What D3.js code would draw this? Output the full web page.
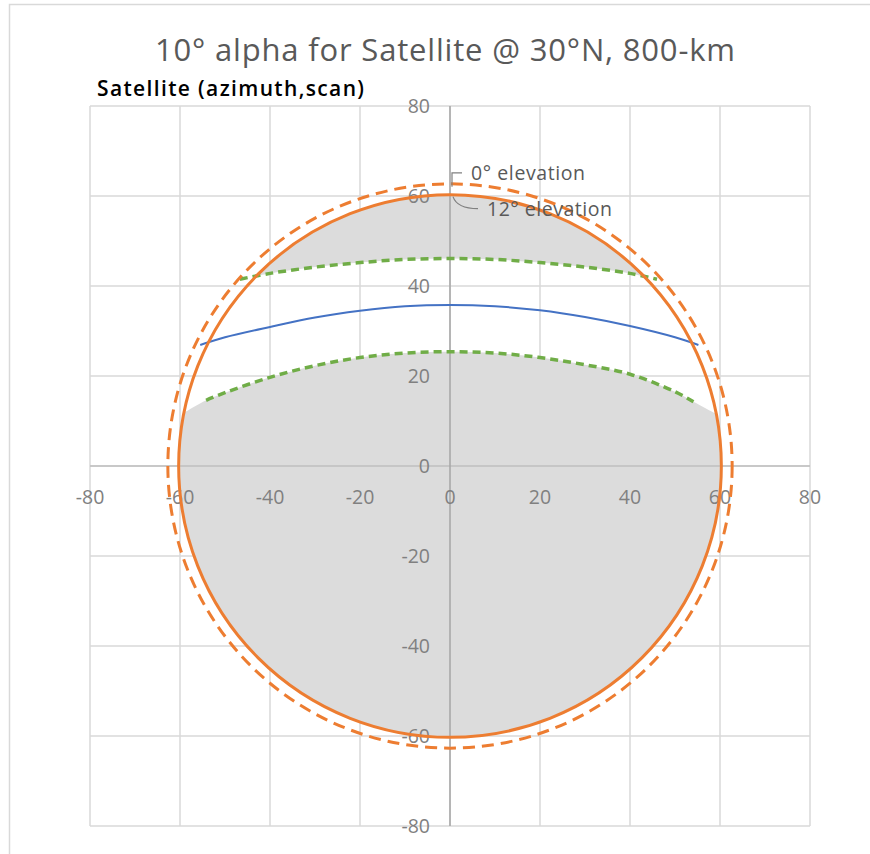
<!DOCTYPE html>
<html>
<head>
<meta charset="utf-8">
<script src="https://cdn.jsdelivr.net/npm/d3@7"></script>
<style>
  html, body { margin: 0; padding: 0; background: #fff; }
  svg { display: block; font-family: "Open Sans", "Noto Sans", sans-serif; }
</style>
</head>
<body>
<svg id="chart" width="870" height="854"></svg>
<script>
// Axis ticks (degrees)
const xTicks = [-80, -60, -40, -20, 0, 20, 40, 60, 80];
const yTicks = [-80, -60, -40, -20, 0, 20, 40, 60, 80];

// Coverage limits (nadir angle, degrees) for 0° and 12° elevation
const horizonRadius = 62.7;   // 0° elevation
const elev12Radius = 60.3;    // 12° elevation

// Scan lines: [azimuth, scan]
const upperAlpha = [[-46.7, 41.5], [-40, 42.8], [-30, 44.2], [-20, 45.2], [-10, 45.9], [0, 46.1],
                    [10, 45.9], [20, 45.2], [30, 44.2], [40, 42.8], [46.0, 41.5]];
const centerScan = [[-55.5, 26.9], [-50, 28.6], [-40, 30.9], [-30, 33.0], [-20, 34.5], [-10, 35.5], [0, 35.8],
                    [10, 35.5], [20, 34.6], [30, 33.1], [40, 31.1], [50, 28.6], [55.2, 26.9]];
const lowerAlpha = [[-54.2, 14.6], [-50, 16.3], [-40, 19.7], [-30, 22.3], [-20, 24.1], [-10, 25.1], [0, 25.4],
                    [10, 25.1], [20, 24.1], [30, 22.5], [40, 20.4], [50, 16.5], [54.1, 14.3]];
// Where the lower shaded edge meets the 12° circle
const lowerEdgeEnds = [[-59.1, 11.8], [59.1, 11.6]];

const titleText = "10° alpha for Satellite @ 30°N, 800-km";
const axisTitle = "Satellite (azimuth,scan)";
const notes = ["0° elevation", "12° elevation"];

const svg = d3.select("#chart");
const x = d3.scaleLinear().domain([-80, 80]).range([90, 810]);
const y = d3.scaleLinear().domain([-80, 80]).range([826, 106]);

// Outer chart border
svg.append("rect").attr("x", 9.5).attr("y", 4.5).attr("width", 880).attr("height", 880)
  .attr("fill", "none").attr("stroke", "#d9d9d9").attr("stroke-width", 1.5);

// Gridlines
const grid = svg.append("g").attr("stroke", "#d9d9d9").attr("stroke-width", 1.5);
grid.selectAll("line.v").data(xTicks).join("line").attr("class", "v")
  .attr("x1", d => x(d)).attr("x2", d => x(d)).attr("y1", y(80)).attr("y2", y(-80));
grid.selectAll("line.h").data(yTicks).join("line").attr("class", "h")
  .attr("y1", d => y(d)).attr("y2", d => y(d)).attr("x1", x(-80)).attr("x2", x(80));

// Shaded regions (outside the alpha band) inside the 12° circle
const rPix = r => x(r) - x(0);
svg.append("clipPath").attr("id", "inner")
  .append("circle").attr("cx", x(0)).attr("cy", y(0)).attr("r", rPix(elev12Radius));

const line = d3.line().x(d => x(d[0])).y(d => y(d[1])).curve(d3.curveCatmullRom);
const fillG = svg.append("g").attr("clip-path", "url(#inner)").attr("fill", "#dcdcdc");

const tl = upperAlpha[0], tr = upperAlpha[upperAlpha.length - 1];
const topPath = line(upperAlpha) +
  `L${x(tr[0]) + 40},${y(tr[1])}L${x(80)},${y(80)}L${x(-80)},${y(80)}L${x(tl[0]) - 40},${y(tl[1])}Z`;
fillG.append("path").attr("d", topPath);

const lowEdge = [lowerEdgeEnds[0]].concat(lowerAlpha, [lowerEdgeEnds[1]]);
const extend = (a, b) => [b[0] + (b[0] - a[0]) * 2, b[1] + (b[1] - a[1]) * 2];
const lowLeft = extend(lowerAlpha[0], lowerEdgeEnds[0]);
const lowRight = extend(lowerAlpha[lowerAlpha.length - 1], lowerEdgeEnds[1]);
const bottomPath = line(lowEdge) +
  `L${x(lowRight[0])},${y(lowRight[1])}L${x(80)},${y(-80)}L${x(-80)},${y(-80)}` +
  `L${x(lowLeft[0])},${y(lowLeft[1])}L${x(lowEdge[0][0])},${y(lowEdge[0][1])}Z`;
fillG.append("path").attr("d", bottomPath);

// Zero axes
svg.append("line").attr("x1", x(-80)).attr("x2", x(80)).attr("y1", y(0)).attr("y2", y(0))
  .attr("stroke", "#bfbfbf").attr("stroke-width", 1.5);
svg.append("line").attr("x1", x(0)).attr("x2", x(0)).attr("y1", y(80)).attr("y2", y(-80))
  .attr("stroke", "#a6a6a6").attr("stroke-width", 1.5);

// Tick labels
const tickStyle = sel => sel.attr("fill", "#808080").attr("font-size", 19.5);
svg.append("g").selectAll("text").data(xTicks).join("text")
  .attr("x", d => x(d)).attr("y", y(0) + 38).attr("text-anchor", "middle")
  .text(d => d).call(tickStyle);
svg.append("g").selectAll("text").data(yTicks).join("text")
  .attr("x", x(0) - 20).attr("y", d => y(d) + 7).attr("text-anchor", "end")
  .text(d => d).call(tickStyle);

// Scan curves
svg.append("path").attr("d", line(lowerAlpha)).attr("fill", "none")
  .attr("stroke", "#70ad47").attr("stroke-width", 3.5).attr("stroke-dasharray", "8,5");
svg.append("path").attr("d", line(upperAlpha)).attr("fill", "none")
  .attr("stroke", "#70ad47").attr("stroke-width", 3.5).attr("stroke-dasharray", "8,5");
svg.append("path").attr("d", line(centerScan)).attr("fill", "none")
  .attr("stroke", "#4472c4").attr("stroke-width", 2);

// Elevation circles
svg.append("circle").attr("cx", x(0)).attr("cy", y(0)).attr("r", rPix(elev12Radius))
  .attr("fill", "none").attr("stroke", "#ed7d31").attr("stroke-width", 3);
svg.append("circle").attr("cx", x(0)).attr("cy", y(0)).attr("r", rPix(horizonRadius))
  .attr("fill", "none").attr("stroke", "#ed7d31").attr("stroke-width", 3)
  .attr("stroke-dasharray", "12,7");

// Annotations with leader lines
const leader = svg.append("g").attr("fill", "none").attr("stroke", "#808080").attr("stroke-width", 1.2);
const topH = y(horizonRadius);
leader.append("path").attr("d", `M${x(0) + 2},${topH + 3}L${x(0) + 2},${topH - 11}L${x(0) + 12},${topH - 11}`);
const top12 = y(elev12Radius);
leader.append("path").attr("d", `M${x(0) + 3},${top12 + 2}Q${x(0) + 7},${top12 + 14} ${x(0) + 28},${top12 + 14}`);
svg.append("text").attr("x", x(0) + 21).attr("y", topH - 4).text(notes[0])
  .attr("fill", "#595959").attr("font-size", 19.5).attr("textLength", 114);
svg.append("text").attr("x", x(0) + 37).attr("y", top12 + 21).text(notes[1])
  .attr("fill", "#595959").attr("font-size", 19.5).attr("textLength", 125);

// Titles
svg.append("text").attr("x", 445).attr("y", 61).attr("text-anchor", "middle")
  .attr("fill", "#595959").attr("font-size", 31).attr("textLength", 580).text(titleText);
svg.append("text").attr("x", 97).attr("y", 96)
  .attr("fill", "#000").attr("font-size", 21).attr("font-weight", 600)
  .attr("textLength", 267).text(axisTitle);
</script>
</body>
</html>
